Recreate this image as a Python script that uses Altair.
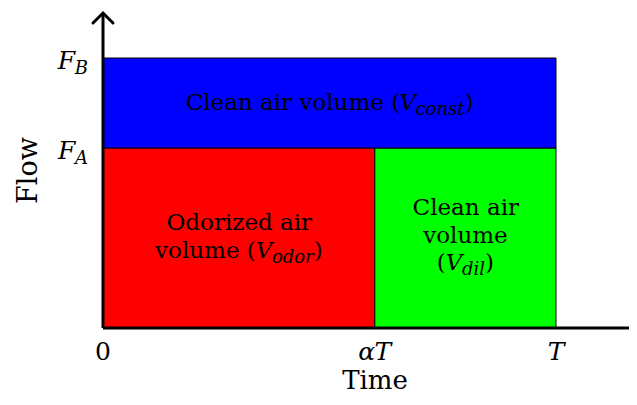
import altair as alt
import pandas as pd

# ---------------- data ----------------
T_END = 1.0          # T
ALPHA = 0.6          # alpha (fraction of T)
F_A = 2.0
F_B = 3.0

region_x0 = [0.0, 0.6, 0.0]
region_x1 = [0.6, 1.0, 1.0]
region_y0 = [0.0, 0.0, 2.0]
region_y1 = [2.0, 2.0, 3.0]
region_colors = ["#ff0000", "#00ff00", "#0000ff"]

region_label_lines = [
    [[("Odorized air", "rm")],
     [("volume (", "rm"), ("V", "it"), ("odor", "sub"), (")", "rm")]],
    [[("Clean air", "rm")],
     [("volume", "rm")],
     [("(", "rm"), ("V", "it"), ("dil", "sub"), (")", "rm")]],
    [[("Clean air volume (", "rm"), ("V", "it"), ("const", "sub"), (")", "rm")]],
]

x_tick_values = [0.0, 0.6, 1.0]
x_tick_labels = [[("0", "rm")], [("α", "it"), ("T", "it")], [("T", "it")]]
y_tick_values = [2.0, 3.0]
y_tick_labels = [[("F", "it"), ("A", "sub")], [("F", "it"), ("B", "sub")]]
x_title = "Time"
y_title = "Flow"

# ---------------- style / layout ----------------
FONT = "DejaVu Serif"
PAD_L, PAD_T, PAD_R, PAD_B = 95, 5, 0, 68
W, H = 526, 315
PX_PER_X = 453.0
PX_PER_Y = 90.0
XMAX = W / PX_PER_X
YMAX = H / PX_PER_Y
X_ARROW = (W + 16) / PX_PER_X

BODY = {"rm": 23, "it": 23, "sub": 18}
TICK = {"rm": 25, "it": 25, "sub": 18}
SUB_DROP = 5
W_RM = {" ": 0.318, "(": 0.390, ")": 0.390, "C": 0.733, "O": 0.787, "a": 0.596,
        "d": 0.640, "e": 0.592, "i": 0.320, "l": 0.320, "m": 0.948, "n": 0.644,
        "o": 0.602, "r": 0.478, "u": 0.644, "v": 0.565, "z": 0.525, "0": 0.636}
W_IT = {"V": 0.700, "T": 0.669, "F": 0.683, "A": 0.722, "B": 0.735, "α": 0.650,
        "c": 0.560, "o": 0.602, "n": 0.640, "s": 0.513, "t": 0.402, "d": 0.640,
        "i": 0.320, "l": 0.320, "r": 0.478}

region_line_dy = [[-8, 20], [-23, 5, 32], [7]]

xs = alt.Scale(domain=[0, XMAX], nice=False, zero=False)
ys = alt.Scale(domain=[0, YMAX], nice=False, zero=False)


def pw(text, kind, sizes):
    table = W_RM if kind == "rm" else W_IT
    return sum(table.get(c, 0.6) for c in text) * sizes[kind]


def text_layers(x, y, pieces, anchor_dx, dy, sizes, align="center"):
    total = sum(pw(t, k, sizes) for t, k in pieces)
    start = anchor_dx - (total / 2 if align == "center" else total if align == "right" else 0)
    layers = []
    cur = start
    for t, k in pieces:
        df = pd.DataFrame({"x": [x], "y": [y], "t": [t]})
        layers.append(
            alt.Chart(df).mark_text(
                align="left", baseline="alphabetic", font=FONT,
                fontSize=sizes[k], fontStyle="normal" if k == "rm" else "italic",
                dx=cur, dy=dy + (SUB_DROP if k == "sub" else 0), color="black",
            ).encode(x=alt.X("x:Q", scale=xs, axis=None),
                     y=alt.Y("y:Q", scale=ys, axis=None), text="t:N")
        )
        cur += pw(t, k, sizes)
    return layers


rects = alt.Chart(pd.DataFrame({
    "x0": region_x0, "x1": region_x1, "y0": region_y0, "y1": region_y1,
    "c": region_colors})).mark_rect(stroke="black", strokeWidth=1).encode(
    x=alt.X("x0:Q", scale=xs, axis=None), x2="x1:Q",
    y=alt.Y("y0:Q", scale=ys, axis=None), y2="y1:Q",
    color=alt.Color("c:N", scale=None),
)

layers = [rects]

for i in range(len(region_x0)):
    cx = (region_x0[i] + region_x1[i]) / 2
    cy = (region_y0[i] + region_y1[i]) / 2
    for line, dy in zip(region_label_lines[i], region_line_dy[i]):
        layers += text_layers(cx, cy, line, 0, dy, BODY)

for v, lab in zip(x_tick_values, x_tick_labels):
    layers += text_layers(v, 0.0, lab, 0, 32, TICK)

for v, lab in zip(y_tick_values, y_tick_labels):
    layers += text_layers(0.0, v, lab, -15, 11, TICK, align="right")

layers.append(
    alt.Chart(pd.DataFrame({"x": [0.0], "y": [0.0], "t": [x_title]})).mark_text(
        align="center", baseline="alphabetic", font=FONT, fontSize=26,
        dx=272, dy=61, color="black").encode(
        x=alt.X("x:Q", scale=xs, axis=None), y=alt.Y("y:Q", scale=ys, axis=None), text="t:N")
)
layers.append(
    alt.Chart(pd.DataFrame({"x": [0.0], "y": [YMAX / 2], "t": [y_title]})).mark_text(
        align="center", baseline="alphabetic", font=FONT, fontSize=27, angle=270,
        dy=-66, color="black").encode(
        x=alt.X("x:Q", scale=xs, axis=None), y=alt.Y("y:Q", scale=ys, axis=None), text="t:N")
)

# axes
layers.append(
    alt.Chart(pd.DataFrame({"x": [0.0], "x2": [X_ARROW], "y": [0.0]})).mark_rule(
        color="black", strokeWidth=3).encode(
        x=alt.X("x:Q", scale=xs, axis=None), x2="x2:Q", y=alt.Y("y:Q", scale=ys, axis=None))
)
layers.append(
    alt.Chart(pd.DataFrame({"x": [0.0], "y": [0.0], "y2": [YMAX]})).mark_rule(
        color="black", strokeWidth=3).encode(
        x=alt.X("x:Q", scale=xs, axis=None), y=alt.Y("y:Q", scale=ys, axis=None), y2="y2:Q")
)
layers.append(
    alt.Chart(pd.DataFrame({"x": [0.0], "y": [YMAX]})).mark_point(
        shape="M -1 1 Q -0.35 0.35 0 0 Q 0.35 0.35 1 1", size=400, filled=False,
        stroke="black", strokeWidth=3, opacity=1, strokeCap="round").encode(
        x=alt.X("x:Q", scale=xs, axis=None), y=alt.Y("y:Q", scale=ys, axis=None))
)
layers.append(
    alt.Chart(pd.DataFrame({"x": [X_ARROW], "y": [0.0]})).mark_point(
        shape="M -1 -1 Q -0.35 -0.35 0 0 Q -0.35 0.35 -1 1", size=400, filled=False,
        stroke="black", strokeWidth=3, opacity=1, strokeCap="round").encode(
        x=alt.X("x:Q", scale=xs, axis=None), y=alt.Y("y:Q", scale=ys, axis=None))
)

chart = alt.layer(*layers).properties(
    width=W, height=H,
    autosize=alt.AutoSizeParams(type="none"),
    padding={"left": PAD_L, "top": PAD_T, "right": PAD_R, "bottom": PAD_B},
    background="white",
).configure_view(stroke=None)

chart.save("out.html", embed_options={"renderer": "svg", "actions": False})
